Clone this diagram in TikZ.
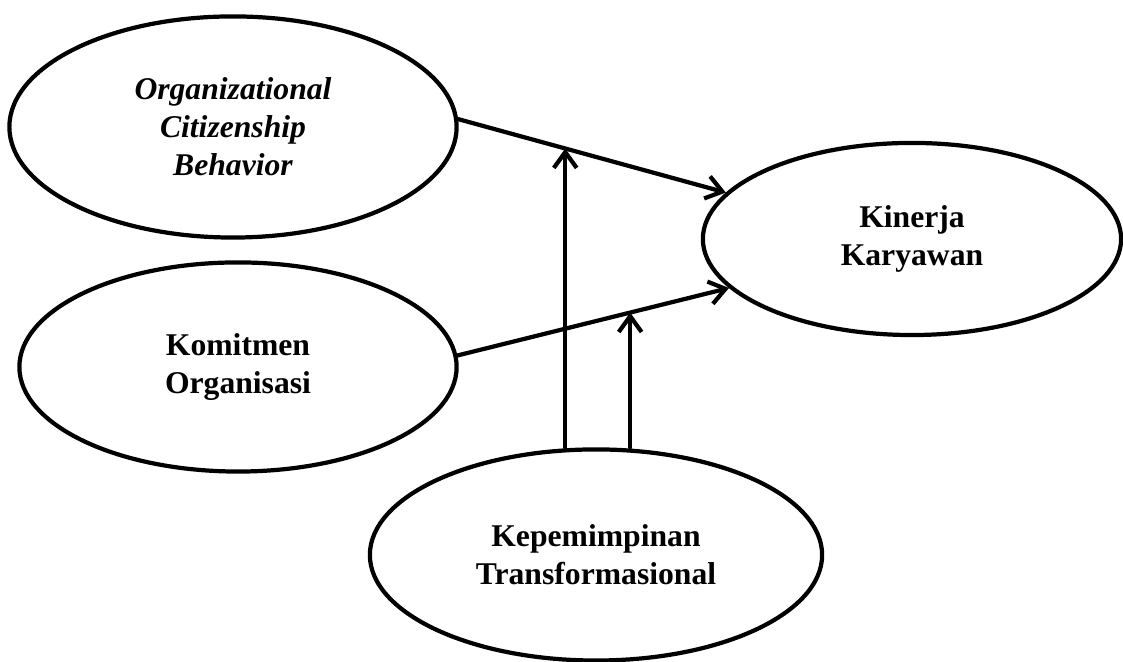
\documentclass[tikz,border=0pt]{standalone}
\usepackage{fontspec}
\setmainfont{Liberation Serif}
\usetikzlibrary{shapes.geometric,arrows.meta}
\begin{document}
\begin{tikzpicture}[x=0.01cm, y=-0.01cm, line join=round, line cap=round, line width=1.2pt, >={Straight Barb[length=4.5pt,width=6.5pt]},
		var/.style={ellipse, draw, align=center, inner sep=0pt, font=\fontsize{9}{10.8}\selectfont\bfseries}]
			\useasboundingbox (0,0) rectangle (1123,662);
			\node[var, minimum width=4.47cm, minimum height=2.21cm, font=\fontsize{9}{10.8}\selectfont\bfseries\itshape] (ocb) at (233,127) {Organizational\\Citizenship\\Behavior};
			\node[var, minimum width=4.37cm, minimum height=2.09cm] (kom) at (238,367) {Komitmen\\Organisasi};
			\node[var, minimum width=4.18cm, minimum height=1.92cm] (kin) at (912,239) {Kinerja\\Karyawan};
			\node[var, minimum width=4.52cm, minimum height=2.11cm] (kep) at (596,555) {Kepemimpinan\\Transformasional};
			\draw[->] (ocb.2)--(kin.166) coordinate[pos=0.40] (m1);
			\draw[->] (kom.3)--(kin.195) coordinate[pos=0.636] (m2);
			\draw[->] (m1 |- kep.north)--(m1);
			\draw[->] (m2 |- kep.north)--(m2);
		\end{tikzpicture}
\end{document}
